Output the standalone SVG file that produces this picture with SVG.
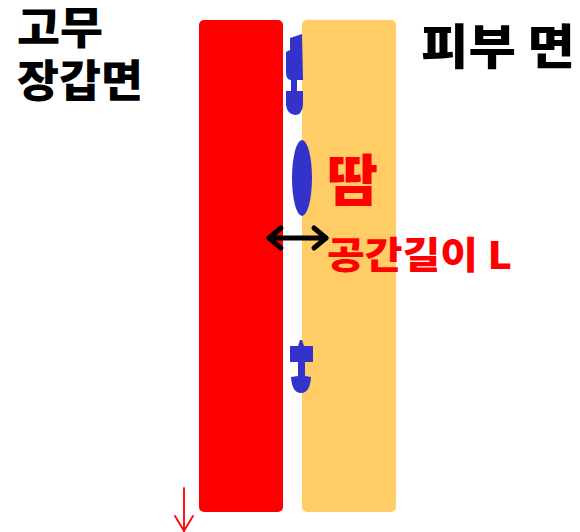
<svg xmlns="http://www.w3.org/2000/svg" width="580" height="532" viewBox="0 0 580 532">
  <style>
    .lbl { font-family: "Noto Sans CJK KR", "Noto Sans", sans-serif; font-weight: 900; }
    .drop { fill: #3333CC; }
  </style>
  <rect width="580" height="532" fill="#FFFFFF"/>

  <g id="glove">
    <rect x="199" y="20" width="84" height="492" rx="5" fill="#FF0000"/>
  </g>
  <g id="skin">
    <rect x="302" y="20" width="94" height="492" rx="5" fill="#FFCC66"/>
  </g>

  <g id="sweat">
    <path class="drop" d="M290,38 L302,34 L303,80 L297,80 L297,91 L303,91 L303,105 Q302,115 295,115 Q287,114 286,105 L286,91 L291,91 L291,80 Q286,80 286,72 L286,52 L290,50 Z"/>
    <ellipse class="drop" cx="302" cy="178" rx="10" ry="38"/>
    <path class="drop" d="M300,340 L302,340 L304,346 L313,346 L313,362 L305,362 L305,376 L311,377 Q310,393 301,393 Q292,393 291,377 L298,376 L298,362 L290,362 L290,346 L298,346 Z"/>
  </g>

  <g id="labels">
    <text class="lbl" x="17" y="44" font-size="44" textLength="86" lengthAdjust="spacingAndGlyphs" fill="#000000">고무</text>
    <text class="lbl" x="17" y="97" font-size="44" textLength="126" lengthAdjust="spacingAndGlyphs" fill="#000000">장갑면</text>
    <text class="lbl" x="421" y="64" font-size="48" textLength="154" lengthAdjust="spacingAndGlyphs" fill="#000000">피부 면</text>
    <text class="lbl" x="327" y="201" font-size="56" textLength="51" lengthAdjust="spacingAndGlyphs" fill="#FF0000">땀</text>
    <text class="lbl" x="327" y="269" font-size="37" textLength="185" lengthAdjust="spacingAndGlyphs" fill="#FF0000">공간길이 L</text>
  </g>

  <g id="connectors">
    <g id="gap-length" stroke="#000000" stroke-width="5" stroke-linecap="round" stroke-linejoin="round" fill="none">
      <line x1="269" y1="238" x2="326" y2="238"/>
      <polyline points="281,228 269,238 281,248"/>
      <polyline points="314,228 326,238 314,248"/>
    </g>
    <g id="downward" stroke="#FF0000" stroke-width="1.8" fill="none" stroke-linecap="round">
      <line x1="184" y1="488" x2="184" y2="531"/>
      <polyline points="175,516 184,531 193,516"/>
    </g>
  </g>
</svg>
